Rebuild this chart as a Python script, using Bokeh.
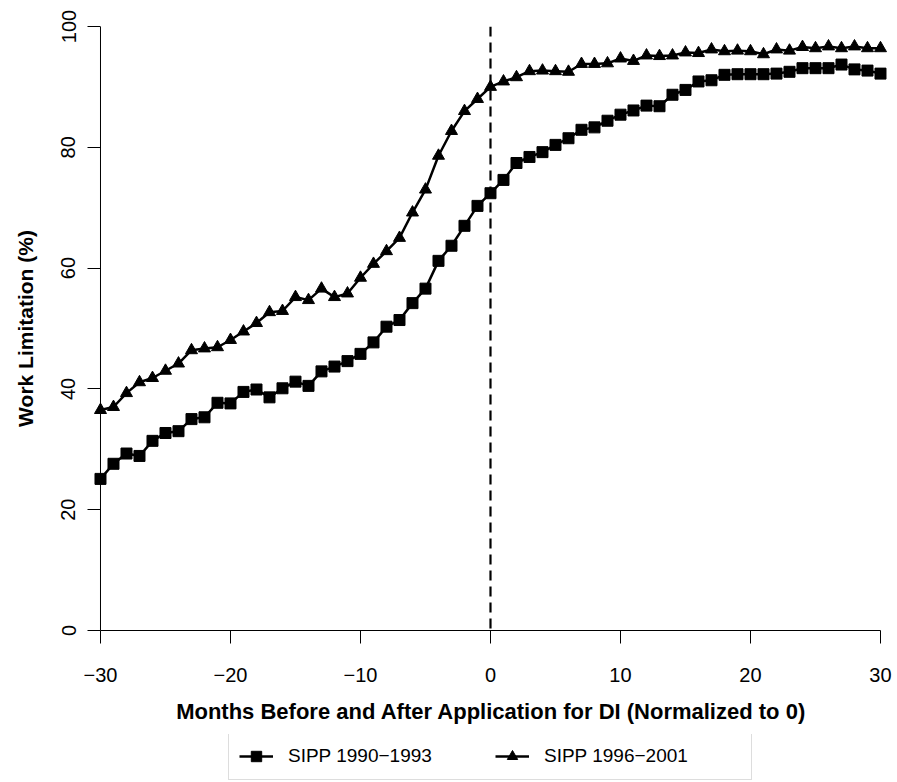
from bokeh.plotting import figure
from bokeh.models import Range1d, FixedTicker, Span, Legend, LegendItem
from bokeh.layouts import column
from bokeh.embed import file_html
from bokeh.resources import INLINE

months = list(range(-30, 31))

sipp_1990_1993 = [25.1, 27.6, 29.3, 28.9, 31.4, 32.7, 33.0, 35.0, 35.3, 37.7,
                  37.6, 39.5, 39.9, 38.6, 40.1, 41.2, 40.5, 42.9, 43.7, 44.6,
                  45.8, 47.7, 50.3, 51.4, 54.2, 56.6, 61.2, 63.7, 67.0, 70.3,
                  72.4, 74.6, 77.4, 78.4, 79.2, 80.4, 81.5, 82.9, 83.3, 84.4,
                  85.4, 86.1, 86.9, 86.8, 88.7, 89.5, 90.9, 91.1, 92.0, 92.1,
                  92.1, 92.1, 92.2, 92.5, 93.1, 93.1, 93.1, 93.7, 92.9, 92.7,
                  92.2]

sipp_1996_2001 = [36.5, 37.0, 39.3, 41.1, 41.8, 43.0, 44.2, 46.4, 46.7, 46.9,
                  48.1, 49.5, 50.9, 52.7, 52.9, 55.2, 54.7, 56.6, 55.2, 55.8,
                  58.4, 60.7, 62.8, 65.0, 69.2, 73.0, 78.6, 82.7, 86.0, 88.0,
                  90.0, 90.9, 91.6, 92.6, 92.7, 92.6, 92.5, 93.8, 93.8, 93.9,
                  94.7, 94.3, 95.2, 95.1, 95.2, 95.7, 95.6, 96.2, 95.9, 96.0,
                  95.9, 95.4, 96.2, 96.0, 96.6, 96.4, 96.7, 96.4, 96.7, 96.4,
                  96.4]

series_labels = ["SIPP 1990\u22121993", "SIPP 1996\u22122001"]
x_ticks = [-30, -20, -10, 0, 10, 20, 30]
x_tick_labels = ["\u221230", "\u221220", "\u221210", "0", "10", "20", "30"]
y_ticks = [0, 20, 40, 60, 80, 100]
y_tick_labels = ["0", "20", "40", "60", "80", "100"]
x_title = "Months Before and After Application for DI (Normalized to 0)"
y_title = "Work Limitation (%)"

FONT = "Liberation Sans"

p = figure(width=897, height=734,
           min_border_left=92, min_border_right=7,
           min_border_top=26, min_border_bottom=104,
           x_range=Range1d(-30.615, 30.77), y_range=Range1d(0, 100),
           output_backend="svg", toolbar_location=None,
           background_fill_color="white", border_fill_color="white")
p.outline_line_color = None
p.grid.visible = False

# axes
xa = p.xaxis[0]
xa.ticker = FixedTicker(ticks=x_ticks)
xa.major_label_overrides = {t: l for t, l in zip(x_ticks, x_tick_labels)}
xa.bounds = (-30, 30)
xa.axis_label = x_title

ya = p.yaxis[0]
ya.ticker = FixedTicker(ticks=y_ticks)
ya.major_label_overrides = {t: l for t, l in zip(y_ticks, y_tick_labels)}
ya.bounds = (0, 100)
ya.axis_label = y_title
ya.major_label_orientation = "vertical"

for ax in (xa, ya):
    ax.axis_line_color = "black"
    ax.axis_line_width = 1
    ax.major_tick_line_color = "black"
    ax.major_tick_line_width = 1
    ax.minor_tick_line_color = None
    ax.major_label_text_font = FONT
    ax.major_label_text_font_size = "20px"
    ax.major_label_text_color = "black"
    ax.axis_label_text_font = FONT
    ax.axis_label_text_font_style = "bold"
    ax.axis_label_text_color = "black"

xa.major_tick_in = 0
xa.major_tick_out = 13
xa.major_label_standoff = 24
xa.axis_label_standoff = 14
xa.axis_label_text_font_size = "22px"

# y axis sits at the frame edge (x = -30.615); its ticks reach in to x = -30
ya.axis_line_color = None
ya.major_tick_in = 8
ya.major_tick_out = 5
ya.major_label_standoff = 12
ya.axis_label_standoff = 22
ya.axis_label_text_font_size = "21px"

# y axis line drawn at x = -30, as in the reference
p.add_layout(Span(location=-30, dimension="height", line_color="black",
                  line_width=1, level="underlay"))

# reference line at 0
p.add_layout(Span(location=0, dimension="height", line_color="black",
                  line_width=2.2, line_dash="10 6"))

p.line(months, sipp_1990_1993, line_color="black", line_width=2.5)
p.scatter(months, sipp_1990_1993, marker="square", size=11,
          fill_color="black", line_color="black")
p.line(months, sipp_1996_2001, line_color="black", line_width=2.5)
p.scatter(months, sipp_1996_2001, marker="triangle", size=12,
          fill_color="black", line_color="black")

# legend strip below the plot
leg = figure(width=897, height=48, x_range=Range1d(0, 1), y_range=Range1d(0, 1),
             min_border_left=0, min_border_right=0, min_border_top=0,
             min_border_bottom=0, x_axis_type=None, y_axis_type=None,
             output_backend="svg", toolbar_location=None,
             background_fill_color="white", border_fill_color="white")
leg.outline_line_color = None
leg.grid.visible = False
# renderers used only as legend keys (points lie outside the visible range)
k1l = leg.line([-5, -4], [-5, -4], line_color="black", line_width=2.5)
k1m = leg.scatter([-5], [-5], marker="square", size=9,
                  fill_color="black", line_color="black")
k2l = leg.line([-5, -4], [-5, -4], line_color="black", line_width=2.5)
k2m = leg.scatter([-5], [-5], marker="triangle", size=10,
                  fill_color="black", line_color="black")

legend = Legend(items=[LegendItem(label=series_labels[0], renderers=[k1l, k1m]),
                       LegendItem(label=series_labels[1], renderers=[k2l, k2m])],
                orientation="horizontal", location=(136, 2),
                glyph_width=34, glyph_height=26, label_height=26,
                label_width=197, label_standoff=15, spacing=10,
                padding=10, margin=0,
                label_text_font=FONT, label_text_font_size="19px",
                label_text_color="black",
                border_line_color="#bbbbbb", border_line_width=1,
                background_fill_color="white", background_fill_alpha=1)
leg.add_layout(legend, "center")

layout = column(p, leg, spacing=0)
open("out.html", "w").write(file_html(layout, INLINE))
